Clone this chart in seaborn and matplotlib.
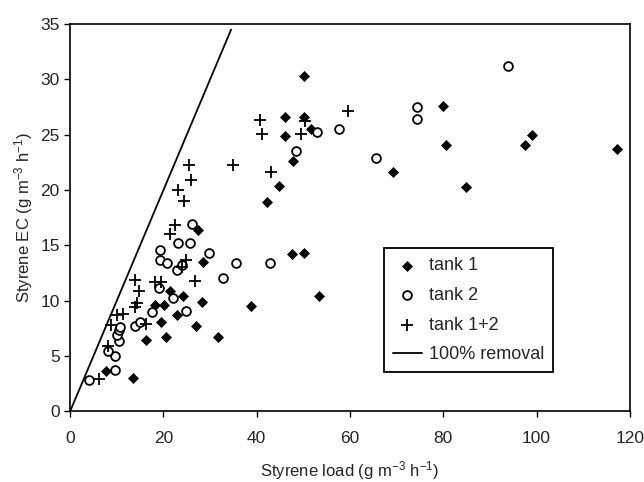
import pandas as pd
import matplotlib
matplotlib.use("Agg")
import matplotlib.pyplot as plt
import seaborn as sns

# values
tank1_load = [7.7, 13.4, 16.2, 20.6, 19.4, 18.2, 20.2, 22.9, 24.2, 21.3, 27.0, 28.3,
              31.8, 28.4, 27.3, 38.8, 42.3, 44.7, 47.7, 46.1, 46.1, 50.1, 51.6, 50.1,
              47.6, 50.1, 53.4, 69.2, 80.0, 80.5, 84.8, 97.6, 99.1, 117.3]
tank1_ec = [3.6, 3.0, 6.4, 6.7, 8.1, 9.6, 9.6, 8.7, 10.4, 10.9, 7.7, 9.9,
            6.7, 13.5, 16.4, 9.5, 18.9, 20.4, 22.6, 24.9, 26.6, 26.6, 25.5, 30.3,
            14.2, 14.3, 10.4, 21.6, 27.6, 24.1, 20.3, 24.1, 25.0, 23.7]

tank2_load = [4.0, 9.5, 9.6, 8.2, 10.4, 10.0, 10.4, 10.7, 13.9, 15.0, 17.5, 22.0,
              24.8, 19.1, 19.2, 19.2, 20.7, 23.1, 25.6, 23.0, 24.0, 26.1, 29.7, 32.8,
              35.6, 42.9, 48.4, 52.9, 57.6, 65.5, 74.4, 74.4, 93.9]
tank2_ec = [2.8, 3.7, 5.0, 5.4, 6.3, 6.9, 7.3, 7.6, 7.7, 8.1, 9.0, 10.2,
            9.1, 11.1, 14.6, 13.7, 13.4, 15.2, 15.2, 12.8, 13.2, 16.9, 14.3, 12.0,
            13.4, 13.4, 23.5, 25.2, 25.5, 22.9, 27.5, 26.4, 31.2]

both_load = [6.2, 8.2, 8.8, 10.0, 11.4, 13.8, 14.3, 16.2, 13.8, 14.8, 18.2, 19.5,
             26.8, 24.9, 24.0, 21.5, 22.4, 23.2, 24.3, 26.0, 25.4, 35.0, 40.6, 41.1,
             43.1, 49.5, 50.4, 59.5]
both_ec = [2.9, 5.9, 7.8, 8.7, 8.8, 9.4, 9.8, 7.9, 11.9, 10.9, 11.7, 11.7,
           11.8, 13.7, 13.0, 16.0, 16.8, 20.0, 19.0, 20.9, 22.3, 22.3, 26.3, 25.1,
           21.6, 25.1, 26.2, 27.1]

removal_load = [0, 34.5]

sns.set_style("ticks")
plt.rcParams['font.family'] = ['Liberation Sans', 'DejaVu Sans']
plt.rcParams['mathtext.default'] = 'regular'

fig = plt.figure(figsize=(6.44, 4.82), dpi=100)
ax = fig.add_axes([0.109, 0.147, 0.869, 0.803])

sns.scatterplot(x=tank1_load, y=tank1_ec, marker='D', s=26, color='black',
                edgecolor='black', linewidth=0.5, label='tank 1', ax=ax, zorder=3)
sns.scatterplot(x=tank2_load, y=tank2_ec, marker='o', s=40, facecolor='white',
                edgecolor='black', linewidth=1.3, label='tank 2', ax=ax, zorder=3)
sns.scatterplot(x=both_load, y=both_ec, marker='+', s=70, color='black',
                linewidth=1.3, label='tank 1+2', ax=ax, zorder=3)
sns.lineplot(x=removal_load, y=removal_load, color='black', linewidth=1.3,
             label='100% removal', ax=ax)

ax.set_xlim(0, 120)
ax.set_ylim(0, 35)
ax.set_xticks(range(0, 121, 20))
ax.set_yticks(range(0, 36, 5))
ax.tick_params(labelsize=12.5, length=4, width=1, color='black')
ax.tick_params(axis='x', pad=10)
for sp in ax.spines.values():
    sp.set_visible(True)
    sp.set_color('black')
    sp.set_linewidth(1.2)

ax.set_xlabel('Styrene load (g m$^{-3}$ h$^{-1}$)', fontsize=12, labelpad=10)
ax.set_ylabel('Styrene EC (g m$^{-3}$ h$^{-1}$)', fontsize=12, labelpad=4)

leg = ax.legend(loc='lower left', bbox_to_anchor=(0.56, 0.10), fontsize=13,
                frameon=True, fancybox=False, framealpha=1, edgecolor='black',
                handlelength=1.6, handletextpad=0.4, borderpad=0.5, labelspacing=0.7,
                borderaxespad=0)
leg.get_frame().set_linewidth(1.3)

fig.savefig('out.png', dpi=100)
